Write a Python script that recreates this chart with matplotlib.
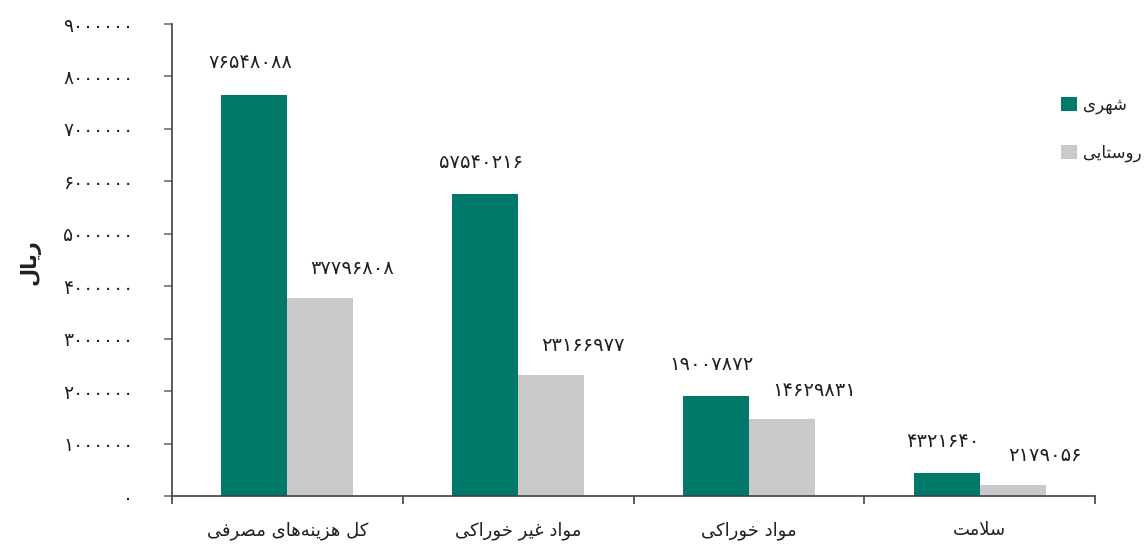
import numpy as np
import matplotlib
matplotlib.use("Agg")
import matplotlib.pyplot as plt
from matplotlib.ticker import FuncFormatter

# household spending by item, urban vs rural (rial)
categories = ["کل هزینه‌های مصرفی", "مواد غیر خوراکی", "مواد خوراکی", "سلامت"]
urban = [76548088, 57540216, 19007872, 4321640]
rural = [37796808, 23166977, 14629831, 2179056]
series_names = ["شهری", "روستایی"]
y_title = "ریال"
y_ticks = [0, 10000000, 20000000, 30000000, 40000000,
           50000000, 60000000, 70000000, 80000000, 90000000]

GREEN = "#00796a"
GREY = "#c8c9cb"
INK = "#231f20"

# --- minimal arabic/persian shaping (matplotlib has no bidi/shaping) ---
# base: (isolated, final, initial, medial); 2-tuples are right-joining only
FORMS = {
    "ا": ("\ufe8d", "\ufe8e"),
    "د": ("\ufea9", "\ufeaa"),
    "ر": ("\ufead", "\ufeae"),
    "ز": ("\ufeaf", "\ufeb0"),
    "و": ("\ufeed", "\ufeee"),
    "ت": ("\ufe95", "\ufe96", "\ufe97", "\ufe98"),
    "خ": ("\ufea5", "\ufea6", "\ufea7", "\ufea8"),
    "س": ("\ufeb1", "\ufeb2", "\ufeb3", "\ufeb4"),
    "ش": ("\ufeb5", "\ufeb6", "\ufeb7", "\ufeb8"),
    "ص": ("\ufeb9", "\ufeba", "\ufebb", "\ufebc"),
    "غ": ("\ufecd", "\ufece", "\ufecf", "\ufed0"),
    "ف": ("\ufed1", "\ufed2", "\ufed3", "\ufed4"),
    "ل": ("\ufedd", "\ufede", "\ufedf", "\ufee0"),
    "م": ("\ufee1", "\ufee2", "\ufee3", "\ufee4"),
    "ن": ("\ufee5", "\ufee6", "\ufee7", "\ufee8"),
    "ه": ("\ufee9", "\ufeea", "\ufeeb", "\ufeec"),
    "ک": ("\ufb8e", "\ufb8f", "\ufb90", "\ufb91"),
    "ی": ("\ufbfc", "\ufbfd", "\ufbfe", "\ufbff"),
}
LAM_ALEF = ("\ufefb", "\ufefc")


def dual(c):
    return c in FORMS and len(FORMS[c]) == 4


def shape(text):
    out = []
    chars = list(text)
    i = 0
    while i < len(chars):
        c = chars[i]
        prev = chars[i - 1] if i > 0 else ""
        if c not in FORMS:
            out.append(c)
            i += 1
            continue
        joins_prev = dual(prev)
        nxt = chars[i + 1] if i + 1 < len(chars) else ""
        if c == "ل" and nxt == "ا":
            out.append(LAM_ALEF[1] if joins_prev else LAM_ALEF[0])
            i += 2
            continue
        joins_next = dual(c) and nxt in FORMS
        f = FORMS[c]
        if joins_prev and joins_next:
            out.append(f[3])
        elif joins_prev:
            out.append(f[1])
        elif joins_next:
            out.append(f[2])
        else:
            out.append(f[0])
        i += 1
    return "".join(out).replace("\u200c", "")[::-1]


def fa_digits(n):
    return str(n).translate(str.maketrans("0123456789", "۰۱۲۳۴۵۶۷۸۹"))


plt.rcParams["font.family"] = ["DejaVu Sans"]

fig = plt.figure(figsize=(11.46, 5.44), dpi=100)
ax = fig.add_axes([172 / 1146, 48 / 544, 923 / 1146, 472 / 544])

x = np.arange(len(categories))
w = 0.286
b1 = ax.bar(x - w / 2, urban, w, color=GREEN, label=shape(series_names[0]))
b2 = ax.bar(x + w / 2, rural, w, color=GREY, label=shape(series_names[1]))

for xi, v in zip(x - w / 2, urban):
    ax.annotate(fa_digits(v), (xi, v), xytext=(-4, 32), textcoords="offset pixels",
                ha="center", va="center", fontsize=14, color=INK)
for xi, v in zip(x + w / 2, rural):
    ax.annotate(fa_digits(v), (xi, v), xytext=(32, 29), textcoords="offset pixels",
                ha="center", va="center", fontsize=14, color=INK)

ax.set_xlim(-0.5, len(categories) - 0.5)
ax.set_ylim(0, 90000000)
ax.set_yticks(y_ticks)
# tick text is printed at one tenth of the plotted scale
ax.yaxis.set_major_formatter(FuncFormatter(lambda v, p: fa_digits(int(round(v / 10)))))

ax.set_xticks(x)
ax.set_xticklabels([shape(c) for c in categories], fontsize=13, color=INK)
ax.set_xticks(np.arange(-0.5, len(categories)), minor=True)
ax.tick_params(axis="x", which="major", length=0, pad=18)
ax.tick_params(axis="x", which="minor", length=6, width=1.2, color="#414042")
ax.tick_params(axis="y", length=6, width=1.2, color="#6d6e71", pad=22,
               labelsize=13.5, labelcolor=INK)

for s in ("top", "right"):
    ax.spines[s].set_visible(False)
for s in ("left", "bottom"):
    ax.spines[s].set_color("#414042")
    ax.spines[s].set_linewidth(1.2)

fig.text(30 / 1146, 1 - 262 / 544, shape(y_title), rotation=90, ha="center",
         va="center", fontsize=15, fontweight="bold", color=INK)

fig.legend(handles=[b1, b2], loc="upper left", bbox_to_anchor=(1046 / 1146, 1 - 81 / 544),
           frameon=False, fontsize=12, handlelength=0.95, handleheight=0.95,
           handletextpad=0.4, labelspacing=1.75, labelcolor=INK)

fig.savefig("out.png", dpi=100)
